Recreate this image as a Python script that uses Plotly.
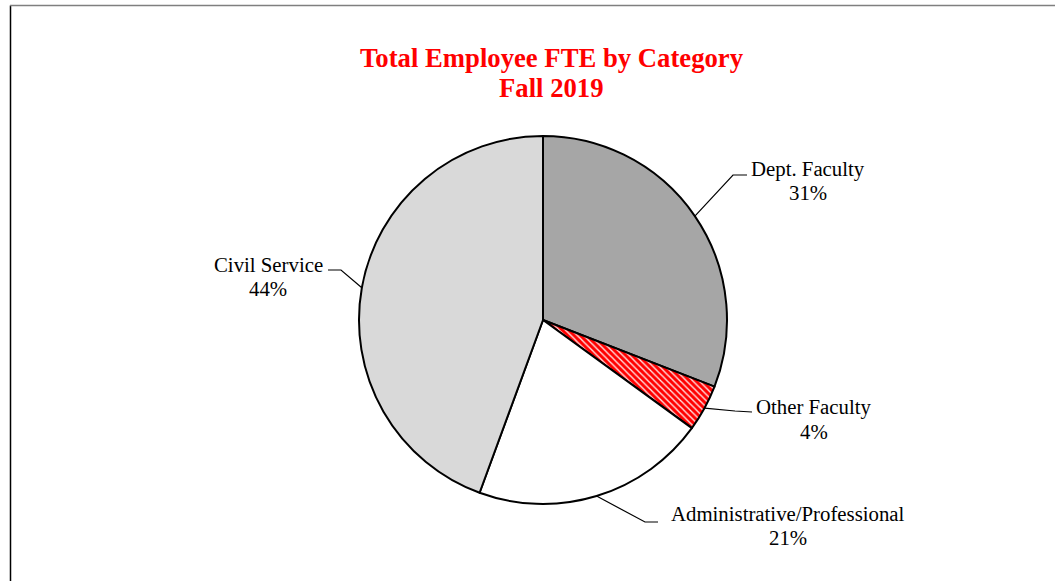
import math
import plotly.graph_objects as go

# ---- data ----
categories = ["Dept. Faculty", "Other Faculty", "Administrative/Professional", "Civil Service"]
shares = [30.9, 4.1, 20.6, 44.4]
colors = ["#a6a6a6", "#ff0000", "#ffffff", "#d9d9d9"]
patterns = ["", "\\", "", ""]
title_lines = ["Total Employee FTE by Category", "Fall 2019"]

# ---- layout (pixels) ----
W, H = 1055, 581
CX, CY, R = 543, 320, 184
FONT = "Liberation Serif, Times New Roman, serif"
# per-slice label layout: elbow point, end of horizontal, text center (name line)
label_layout = {
    "Dept. Faculty": dict(elbow=(733, 175), end=(747, 175), text=(808, 169)),
    "Other Faculty": dict(elbow=(735, 411), end=(752, 412), text=(814, 407)),
    "Administrative/Professional": dict(elbow=(645, 522), end=(658, 522), text=(788, 513)),
    "Civil Service": dict(elbow=(341, 270), end=(328, 270), text=(268, 264)),
}
LINE_GAP = 24
TITLE_Y = [58, 88]
TITLE_X = 551.5

def px(x):
    return x / W

def py(y):
    return 1 - y / H

fig = go.Figure()
fig.add_trace(go.Pie(
    labels=categories,
    values=shares,
    sort=False,
    direction="clockwise",
    rotation=0,
    textinfo="none",
    hoverinfo="label+percent",
    showlegend=False,
    marker=dict(
        colors=colors,
        line=dict(color="#000000", width=2),
        pattern=dict(
            shape=patterns,
            fgcolor="#ffffff",
            bgcolor=colors,
            fgopacity=0.9,
            fillmode="replace",
            size=4.5,
            solidity=0.3,
        ),
    ),
    domain=dict(x=[px(CX - R), px(CX + R)], y=[py(CY + R), py(CY - R)]),
))

total = sum(shares)
cum = 0.0
shapes = []
annotations = []
for cat, v in zip(categories, shares):
    mid = (cum + v / 2) / total * 2 * math.pi
    cum += v
    ex = CX + R * math.sin(mid)
    ey = CY - R * math.cos(mid)
    lay = label_layout[cat]
    pts = [(ex, ey), lay["elbow"], lay["end"]]
    path = "M " + " L ".join(f"{px(x)},{py(y)}" for x, y in pts)
    shapes.append(dict(type="path", xref="paper", yref="paper", path=path,
                       line=dict(color="#000000", width=1.2)))
    pct = round(v / total * 100)
    tx, ty = lay["text"]
    for i, t in enumerate([cat, f"{pct}%"]):
        annotations.append(dict(
            x=px(tx), y=py(ty + i * LINE_GAP), xref="paper", yref="paper",
            text=t, showarrow=False, align="center",
            xanchor="center", yanchor="middle",
            font=dict(family=FONT, size=20.8, color="#000000"),
        ))

for t, ty in zip(title_lines, TITLE_Y):
    annotations.append(dict(
        x=px(TITLE_X), y=py(ty), xref="paper", yref="paper",
        text=f"<b>{t}</b>",
        showarrow=False, align="center", xanchor="center", yanchor="middle",
        font=dict(family=FONT, size=26.7, color="#ff0000"),
    ))

# chart frame
shapes.append(dict(type="line", xref="paper", yref="paper", x0=px(10.5), x1=px(10.5),
                   y0=py(5.5), y1=0, line=dict(color="#000000", width=1.5)))
shapes.append(dict(type="line", xref="paper", yref="paper", x0=px(10), x1=1,
                   y0=py(5.5), y1=py(5.5), line=dict(color="#7f7f7f", width=1.5)))

fig.update_layout(
    width=W, height=H,
    margin=dict(l=0, r=0, t=0, b=0),
    paper_bgcolor="#ffffff",
    plot_bgcolor="#ffffff",
    shapes=shapes,
    annotations=annotations,
)

fig.write_html("out.html", config={"displayModeBar": False},
               post_script="document.body.style.margin='0';document.body.style.padding='0';")
